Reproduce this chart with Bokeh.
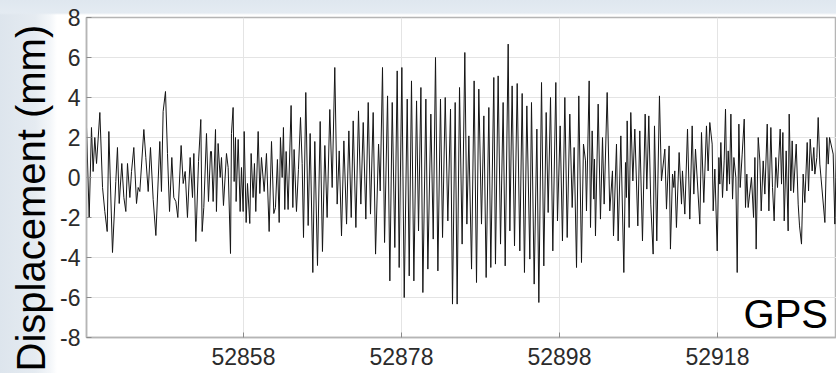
import numpy as np
from bokeh.plotting import figure
from bokeh.models import Range1d, FixedTicker, Label, Title
from bokeh.embed import file_html
from bokeh.resources import INLINE

# ---------------- data ----------------
DAY0 = 52838.13          # left edge of the record (MJD)

# time offsets (days from DAY0) and displacement (mm), in six consecutive pieces
t_seg1 = [0.0, 0.34, 0.63, 0.84, 1.05, 1.27, 1.69, 2.03, 2.32, 2.62, 2.83, 3.29, 3.71, 3.92,
          4.14, 4.47, 4.73, 4.98, 5.19, 5.49, 5.70, 5.99, 6.33, 6.54, 6.75, 7.26, 7.51, 7.81,
          8.10, 8.44, 8.78, 9.28, 9.49, 9.70, 10.0, 10.25, 10.51, 10.80, 11.05, 11.31, 11.56,
          11.98, 12.24, 12.49, 12.78, 13.12, 13.42, 13.59, 13.84, 14.18, 14.47, 14.64, 14.85,
          15.19, 15.44, 15.70]
y_seg1 = [2.5, -2.0, 2.5, 0.3, 2.0, 0.7, 3.25, -0.5, -1.7, -2.7, 2.3, -3.75, -0.2, 1.5,
          -1.3, 0.7, -1.0, -1.7, 0.7, -1.0, 0.3, 1.5, -1.3, -0.5, -0.7, 2.4, 1.0, -0.7,
          1.5, -1.1, -2.9, 1.8, -0.7, 3.3, 4.3, 1.2, -1.7, 1.0, -1.0, -1.2, -2.0,
          1.6, -0.3, 0.3, -2.0, 1.0, -1.0, 1.2, -3.2, 0.8, 2.9, -2.7, -1.5,
          2.2, -1.2, 1.3]

t_seg2 = [15.82, 16.03, 16.33, 16.45, 16.66, 16.92, 17.09, 17.34, 17.72, 17.93, 18.23, 18.35,
          18.56, 18.69, 18.86, 18.94, 19.20, 19.45, 19.62, 19.83, 19.96, 20.21, 20.38, 20.67,
          20.84, 21.09, 21.26, 21.43, 21.73, 21.94, 22.15, 22.49, 22.78, 23.12, 23.42, 23.71,
          23.92, 24.17, 24.39, 24.55, 24.77, 24.93, 25.10, 25.27, 25.52, 25.90, 26.12, 26.28,
          26.58, 26.83, 27.09, 27.30, 27.47, 27.76, 28.06, 28.31, 28.65, 28.90, 29.24, 29.58,
          29.87, 30.17, 30.46, 30.80, 31.10, 31.43]
y_seg2 = [1.3, -1.2, 2.4, -1.7, 1.7, 0.0, 1.0, -1.4, 1.2, 0.5, -3.8, 2.2,
          3.5, -0.2, 2.0, -1.2, 1.9, -1.7, 0.5, -1.7, 2.3, -2.25, -0.3, -2.3,
          1.2, -1.0, 0.7, -1.7, 2.3, -0.8, 1.0, -0.7, 1.2, -2.7, 1.8, -1.8,
          -1.5, 0.9, -2.25, 2.0, 0.0, 2.5, -1.6, 1.3, -1.6, 3.6, -1.5, 1.4,
          -1.7, 0.4, 3.0, 0.7, -3.0, 4.25, -2.4, 2.2, -4.75, 1.8, -4.4, 2.8,
          -3.7, 1.6, -2.0, 3.4, -0.5, 5.5]

t_seg3 = [31.73, 31.99, 32.28, 32.58, 32.92, 33.21, 33.51, 33.76, 34.10, 34.43, 34.73, 35.03,
          35.36, 35.66, 35.95, 36.29, 36.59, 36.97, 37.18, 37.47, 37.73, 38.11, 38.40, 38.70,
          39.03, 39.33, 39.58, 39.92, 40.22, 40.60, 40.85, 41.14, 41.44, 41.78, 42.03, 42.33,
          42.58, 42.96, 43.21, 43.59, 43.89, 44.18, 44.48, 44.81, 45.07, 45.41, 45.74, 46.08,
          46.33, 46.67, 46.92, 47.22]
y_seg3 = [-1.33, 1.33, -2.92, 1.83, -2.33, 2.33, -2.0, 2.83, -2.5, 3.33, -1.33, 2.75,
          -2.08, 3.75, -1.83, 3.25, -3.83, 1.67, -0.67, 5.5, -3.25, 4.08, -5.17, 3.75,
          -3.5, 5.33, -4.5, 5.5, -6.0, 3.92, -4.92, 4.83, -5.17, 3.83, -2.67, 4.5,
          -5.75, 3.92, -4.58, 3.17, -3.08, 6.0, -4.67, 3.92, -3.0, 4.0, -2.17, 3.42,
          -6.33, 3.75, -6.33, 4.5]

t_seg4 = [47.55, 47.89, 48.15, 48.40, 48.74, 49.07, 49.37, 49.66, 50.00, 50.30, 50.59, 50.93,
          51.18, 51.56, 51.77, 52.11, 52.41, 52.74, 53.00, 53.38, 53.59, 53.88, 54.18, 54.52,
          54.85, 55.15, 55.44, 55.74, 56.12, 56.33, 56.67, 57.01, 57.26, 57.60, 57.89, 58.19,
          58.44, 58.74, 59.03, 59.41, 59.62, 59.96, 60.25, 60.55, 60.85, 61.18, 61.48, 61.73,
          62.03, 62.32, 62.66, 62.91, 63.17]
y_seg4 = [-3.33, 6.25, -2.33, 2.08, -4.58, 4.83, -5.25, 4.42, -2.33, 3.08, -5.0, 3.5,
          -4.5, 5.0, -4.33, 5.08, -3.33, 3.75, -4.42, 6.67, -2.67, 4.58, -3.42, 4.7,
          -3.67, 4.2, -4.75, 3.58, -4.08, 3.75, -5.33, 2.42, -6.25, 4.75, -4.42, 3.25,
          -1.75, 4.0, -3.67, 4.75, -2.17, 2.58, -3.17, 4.0, -3.0, 3.17, -1.5, 1.5,
          -4.5, 4.08, -4.25, 1.67, 0.83]

t_seg5 = [63.29, 63.63, 63.80, 64.01, 64.22, 64.30, 64.43, 64.77, 65.06, 65.32, 65.53, 65.91,
          66.24, 66.58, 66.71, 67.09, 67.30, 67.64, 68.02, 68.23, 68.35, 68.44, 68.69, 68.90,
          69.16, 69.41, 69.79, 70.04, 70.38, 70.72, 70.93, 71.18, 71.43, 71.73, 71.90, 72.19,
          72.53, 72.78, 73.21, 73.42, 73.75, 73.92, 74.18, 74.35, 74.47, 74.68, 75.02, 75.32,
          75.44, 75.74, 76.08, 76.37, 76.67, 76.88, 77.09, 77.64, 77.85, 78.14, 78.48, 78.69,
          78.90]
y_seg5 = [-1.67, 4.83, -2.5, 2.33, -1.08, 0.92, -2.92, 3.67, -2.08, 2.0, -1.33, 4.25,
          -1.67, 0.33, -2.92, 1.67, -3.17, 2.08, -4.75, 0.75, -1.0, 2.83, -2.5, 3.25,
          -0.17, 2.42, -2.42, 2.33, -3.17, 3.17, -0.58, 3.08, -1.33, -3.83, 2.58, -3.17,
          4.08, -0.17, 1.42, -1.58, 1.58, -3.58, 0.17, -0.5, 0.33, -2.5, 1.25, -1.33,
          0.33, -1.83, 2.42, -2.08, 2.58, -0.83, 1.42, -2.33, 2.25, -1.25, 2.58, 0.33,
          2.75]

t_seg6 = [79.20, 79.33, 79.54, 79.84, 80.05, 80.17, 80.30, 80.51, 80.72, 80.89, 81.06, 81.23,
          81.40, 81.57, 81.78, 81.95, 82.20, 82.37, 82.58, 82.75, 83.00, 83.26, 83.42, 83.59,
          83.76, 84.18, 84.44, 84.61, 84.77, 85.03, 85.24, 85.41, 85.66, 85.87, 86.17, 86.38,
          86.63, 86.84, 87.05, 87.26, 87.47, 87.81, 87.98, 88.15, 88.32, 88.57, 88.82, 88.95,
          89.16, 89.33, 89.50, 89.84, 90.09, 90.26, 90.51, 90.72, 90.93, 91.23, 91.40, 91.61,
          91.86, 92.07, 92.20, 92.45, 92.62, 92.83, 93.47, 93.72, 93.89, 94.06, 94.52, 94.73,
          94.94]
y_seg6 = [1.67, -1.67, 0.42, -3.67, 1.0, -0.33, 1.75, -1.0, 0.83, 3.42, -0.67, 1.33,
          -0.33, 3.17, -1.08, 1.0, 0.0, -4.75, 2.67, -0.5, 1.17, 2.92, -1.5, 0.17,
          -1.5, 0.0, -2.0, 1.0, -3.58, 2.0, 0.83, -1.67, 0.83, -0.83, 2.67, -1.67,
          2.5, -0.5, -2.17, 1.0, -0.5, 2.42, -0.33, 2.25, -2.17, 1.33, -2.67, 3.17,
          -0.67, 1.83, -0.75, 1.67, -1.33, -2.42, -3.33, 0.17, -1.25, 1.75, -0.67, 1.92,
          0.33, 1.5, 0.17, 1.0, 3.0, 0.67, -2.25, 2.0, 0.67, 2.0, 1.17, -2.33,
          1.5]

x_ticks = [52858, 52878, 52898, 52918]
y_ticks = [-8, -6, -4, -2, 0, 2, 4, 6, 8]
y_tick_labels = ["-8", "-6", "-4", "-2", "0", "2", "4", "6", "8"]
y_title = "Displacement (mm)"
tag_text = "GPS"

# ---------------- assemble ----------------
t_all, y_all = [], []
for ts, ys in [(t_seg1, y_seg1), (t_seg2, y_seg2), (t_seg3, y_seg3),
               (t_seg4, y_seg4), (t_seg5, y_seg5), (t_seg6, y_seg6)]:
    n = min(len(ts), len(ys))
    t_all += ts[:n]
    y_all += ys[:n]
x_all = [DAY0 + v for v in t_all]

X_END = 52933.07
p = figure(width=836, height=373, output_backend="svg", toolbar_location=None,
           x_range=Range1d(DAY0, X_END), y_range=Range1d(-8, 8),
           min_border_left=86, min_border_right=0, min_border_top=17, min_border_bottom=36)

AX_COLOR = "#b5b5b5"
p.outline_line_color = AX_COLOR
p.outline_line_width = 1.5
p.background_fill_color = "white"
p.border_fill_color = None
p.styles = {
    "background": ("linear-gradient(to bottom, #dfe7ef 0px, #e4ebf2 13px, rgba(255,255,255,0) 15px), "
                   "linear-gradient(to right, #dde5ed 0px, #e5ebf1 35px, #f3f6f9 50px, #ffffff 57px)")
}

TICK_FONT = "Liberation Sans"
TICK_COLOR = "#2b2b2b"

for ax in (p.xaxis[0], p.yaxis[0]):
    ax.axis_line_color = AX_COLOR
    ax.axis_line_width = 1.5
    ax.major_tick_in = 5
    ax.major_tick_out = 0
    ax.major_tick_line_color = "#8a8a8a"
    ax.minor_tick_line_color = None
    ax.major_label_text_font = TICK_FONT
    ax.major_label_text_font_size = "23px"
    ax.major_label_text_color = TICK_COLOR

p.xaxis[0].ticker = FixedTicker(ticks=x_ticks)
p.xaxis[0].major_label_standoff = 10
p.yaxis[0].ticker = FixedTicker(ticks=y_ticks)
p.yaxis[0].major_label_overrides = {v: s for v, s in zip(y_ticks, y_tick_labels)}
p.yaxis[0].major_label_standoff = 6

p.xgrid.grid_line_color = "#e4e4e4"
p.ygrid.grid_line_color = "#e4e4e4"

p.line(x_all, y_all, line_color="#151515", line_width=1.0)

p.add_layout(Title(text=y_title, align="left", offset=-34, vertical_align="top",
                   standoff=6, text_font="Liberation Sans", text_font_size="40px",
                   text_font_style="normal", text_color="black"), "left")
p.add_layout(Label(x=52921.3, y=-6.8, text=tag_text, text_align="left",
                   text_baseline="alphabetic", text_font="Liberation Sans",
                   text_font_size="40px", text_color="black"))

open("out.html", "w").write(file_html(p, INLINE))
